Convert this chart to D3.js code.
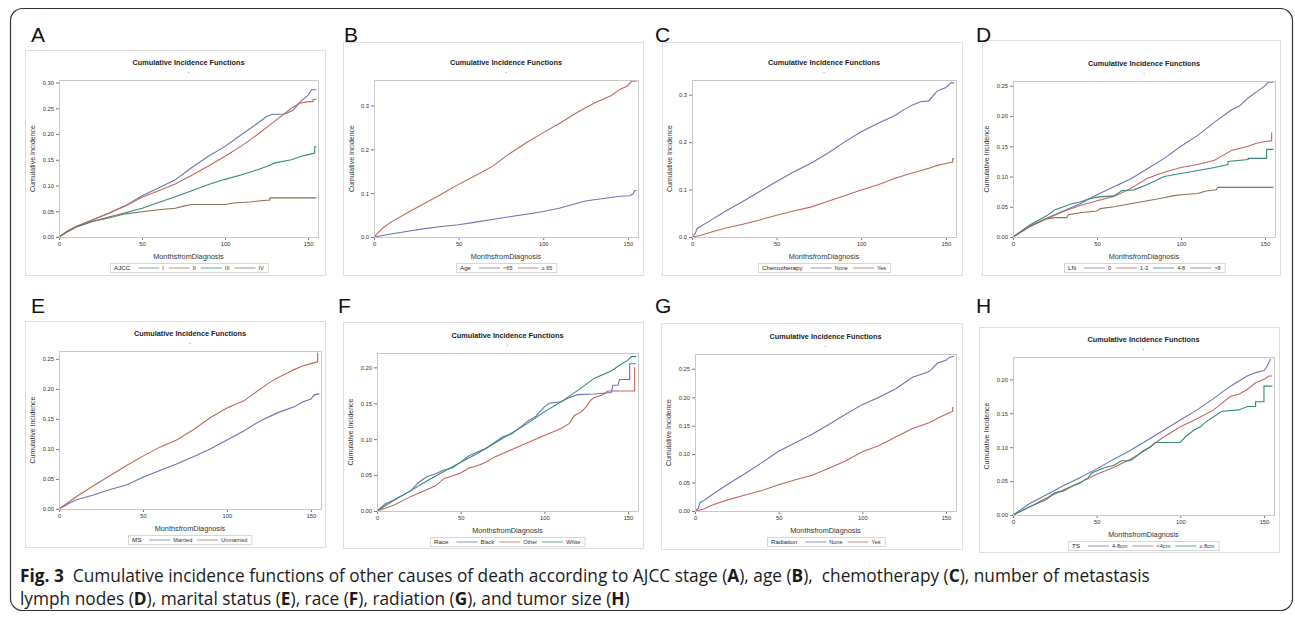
<!DOCTYPE html>
<html lang="en">
<head>
<meta charset="utf-8">
<title>Fig. 3 Cumulative incidence functions</title>
<script src="https://cdn.jsdelivr.net/npm/d3@7/dist/d3.min.js"></script>
<style>
  body { margin: 0; background: #fff; }
  svg  { display: block; }
</style>
</head>
<body>
<svg id="fig" width="1295" height="617"></svg>
<script>
// ---------- data (months, cumulative incidence) ----------
const monthTicks = [0, 50, 100, 150];

// A: AJCC stage
const ajccGroups = ['I', 'II', 'III', 'IV'];
const ajccTicks  = [0, 0.05, 0.10, 0.15, 0.20, 0.25, 0.30];
const ajccI   = [[0,0],[5,0.011],[10,0.02],[20,0.033],[30,0.046],[40,0.061],[50,0.08],[60,0.095],[70,0.111],[80,0.135],[90,0.157],[100,0.176],[110,0.199],[120,0.222],[125,0.234],[128,0.238],[136,0.239],[141,0.246],[145,0.262],[150,0.275],[152,0.286],[155,0.286]];
const ajccII  = [[0,0],[5,0.011],[10,0.02],[20,0.033],[30,0.046],[40,0.06],[50,0.077],[60,0.09],[70,0.103],[80,0.12],[90,0.138],[100,0.157],[110,0.177],[120,0.2],[130,0.225],[140,0.25],[145,0.26],[150,0.263],[153,0.263],[153,0.267],[155,0.267]];
const ajccIII = [[0,0],[5,0.01],[10,0.019],[20,0.03],[30,0.039],[40,0.047],[50,0.056],[60,0.067],[70,0.078],[80,0.09],[90,0.102],[100,0.112],[110,0.121],[120,0.131],[125,0.137],[130,0.144],[140,0.15],[145,0.156],[150,0.16],[154,0.163],[154,0.175],[155,0.175]];
const ajccIV  = [[0,0],[5,0.01],[10,0.019],[20,0.03],[30,0.037],[40,0.045],[50,0.049],[60,0.053],[70,0.056],[75,0.06],[80,0.063],[100,0.063],[105,0.066],[115,0.068],[120,0.07],[127,0.072],[127,0.076],[155,0.076]];

// B: age
const ageGroups = ['<65', '\u2265 65'];
const ageTicks  = [0, 0.1, 0.2, 0.3];
const ageUnder65 = [[0,0],[10,0.007],[20,0.013],[30,0.019],[40,0.024],[50,0.028],[60,0.034],[70,0.04],[80,0.046],[90,0.052],[100,0.058],[110,0.066],[120,0.077],[125,0.082],[130,0.085],[140,0.09],[145,0.093],[151,0.094],[153,0.098],[154,0.106],[155,0.106]];
const age65plus  = [[0,0],[2,0.008],[5,0.02],[10,0.034],[20,0.056],[30,0.077],[40,0.098],[50,0.12],[60,0.14],[70,0.161],[80,0.19],[90,0.215],[100,0.238],[110,0.26],[120,0.284],[130,0.305],[140,0.322],[145,0.336],[150,0.345],[152,0.355],[155,0.355]];

// C: chemotherapy
const chemoGroups = ['None', 'Yes'];
const chemoTicks  = [0, 0.1, 0.2, 0.3];
const chemoNone = [[0,0],[2,0.008],[3,0.018],[5,0.022],[10,0.033],[20,0.055],[30,0.075],[40,0.096],[50,0.117],[60,0.137],[70,0.155],[80,0.176],[90,0.2],[100,0.222],[110,0.24],[120,0.256],[125,0.268],[130,0.278],[135,0.285],[140,0.287],[143,0.3],[145,0.308],[150,0.315],[152,0.322],[153,0.325],[155,0.325]];
const chemoYes  = [[0,0],[5,0.003],[10,0.009],[20,0.019],[30,0.027],[40,0.036],[50,0.046],[60,0.055],[70,0.063],[80,0.075],[90,0.087],[100,0.099],[110,0.11],[120,0.124],[130,0.135],[140,0.145],[145,0.151],[150,0.155],[154,0.158],[154,0.165],[155,0.165]];

// D: lymph nodes
const lnGroups = ['0', '1-3', '4-8', '>8'];
const lnTicks  = [0, 0.05, 0.10, 0.15, 0.20, 0.25];
const ln0     = [[0,0],[10,0.018],[20,0.031],[30,0.043],[40,0.055],[50,0.07],[60,0.083],[70,0.096],[80,0.113],[90,0.13],[100,0.15],[110,0.168],[120,0.19],[130,0.21],[135,0.217],[140,0.23],[145,0.24],[150,0.25],[152,0.256],[155,0.256]];
const ln1to3  = [[0,0],[10,0.018],[20,0.03],[30,0.042],[40,0.052],[50,0.06],[60,0.067],[70,0.08],[80,0.097],[90,0.107],[100,0.115],[110,0.12],[120,0.127],[125,0.135],[130,0.143],[140,0.15],[145,0.155],[150,0.158],[154,0.159],[154,0.173]];
const ln4to8  = [[0,0],[10,0.02],[20,0.035],[25,0.045],[30,0.05],[35,0.055],[40,0.058],[45,0.063],[50,0.066],[60,0.068],[65,0.077],[72,0.078],[80,0.087],[90,0.1],[100,0.105],[110,0.11],[120,0.115],[128,0.12],[128,0.125],[140,0.128],[140,0.13],[151,0.13],[151,0.145],[155,0.145]];
const lnOver8 = [[0,0],[10,0.017],[20,0.03],[25,0.032],[32,0.032],[33,0.037],[40,0.04],[50,0.043],[52,0.047],[60,0.05],[70,0.055],[80,0.06],[90,0.065],[95,0.068],[100,0.07],[110,0.072],[115,0.076],[121,0.078],[122,0.082],[155,0.082]];

// E: marital status
const msGroups = ['Married', 'Unmarried'];
const msTicks  = [0, 0.05, 0.10, 0.15, 0.20, 0.25];
const msMarried   = [[0,0],[5,0.008],[10,0.015],[20,0.023],[30,0.032],[40,0.04],[50,0.053],[60,0.064],[70,0.075],[80,0.087],[90,0.1],[100,0.115],[110,0.13],[120,0.147],[130,0.16],[140,0.17],[145,0.178],[150,0.183],[152,0.19],[155,0.192]];
const msUnmarried = [[0,0],[5,0.01],[10,0.02],[20,0.038],[30,0.055],[40,0.072],[50,0.088],[60,0.103],[70,0.115],[80,0.132],[90,0.152],[100,0.168],[110,0.18],[120,0.2],[125,0.21],[130,0.218],[140,0.232],[145,0.238],[150,0.242],[154,0.245],[154,0.26]];

// F: race
const raceGroups = ['Black', 'Other', 'White'];
const raceTicks  = [0, 0.05, 0.10, 0.15, 0.20];
const raceBlack = [[0,0],[5,0.01],[10,0.015],[20,0.028],[25,0.04],[30,0.048],[35,0.052],[40,0.057],[45,0.06],[50,0.068],[55,0.077],[60,0.082],[65,0.087],[70,0.095],[75,0.103],[80,0.107],[85,0.115],[90,0.125],[95,0.132],[100,0.145],[103,0.15],[110,0.152],[115,0.158],[120,0.162],[130,0.163],[140,0.165],[141,0.175],[144,0.175],[145,0.183],[151,0.183],[151,0.205],[155,0.205]];
const raceOther = [[0,0],[10,0.008],[20,0.02],[30,0.03],[35,0.035],[40,0.045],[50,0.053],[55,0.06],[60,0.063],[65,0.068],[70,0.075],[80,0.085],[90,0.095],[100,0.105],[105,0.11],[110,0.115],[115,0.122],[118,0.133],[122,0.138],[125,0.145],[128,0.155],[130,0.158],[135,0.162],[138,0.167],[154,0.167],[154,0.2]];
const raceWhite = [[0,0],[10,0.015],[20,0.028],[30,0.042],[40,0.055],[50,0.068],[60,0.08],[70,0.094],[80,0.108],[90,0.122],[100,0.138],[110,0.152],[120,0.168],[130,0.185],[140,0.195],[145,0.203],[150,0.21],[152,0.215],[155,0.215]];

// G: radiation
const radGroups = ['None', 'Yes'];
const radTicks  = [0, 0.05, 0.10, 0.15, 0.20, 0.25];
const radNone = [[0,0],[2,0.005],[3,0.015],[5,0.018],[10,0.028],[20,0.048],[30,0.066],[40,0.085],[50,0.105],[60,0.12],[70,0.135],[80,0.152],[90,0.17],[100,0.187],[110,0.2],[120,0.215],[130,0.235],[135,0.24],[140,0.245],[145,0.26],[150,0.265],[152,0.27],[155,0.272]];
const radYes  = [[0,0],[5,0.003],[10,0.01],[20,0.02],[30,0.028],[40,0.036],[50,0.046],[60,0.055],[70,0.063],[80,0.075],[90,0.088],[100,0.104],[110,0.115],[120,0.13],[130,0.145],[140,0.155],[145,0.163],[150,0.17],[154,0.175],[154,0.183]];

// H: tumour size
const tsGroups = ['4-8cm', '<4cm', '\u2265 8cm'];
const tsTicks  = [0, 0.05, 0.10, 0.15, 0.20];
const ts4to8  = [[0,0],[10,0.017],[20,0.03],[30,0.043],[40,0.055],[50,0.068],[60,0.082],[70,0.095],[80,0.11],[90,0.125],[100,0.14],[110,0.155],[120,0.172],[130,0.19],[140,0.205],[145,0.21],[150,0.213],[152,0.22],[154,0.23]];
const tsUnder4 = [[0,0],[10,0.012],[20,0.025],[30,0.037],[40,0.048],[50,0.06],[60,0.07],[70,0.082],[80,0.097],[90,0.115],[100,0.13],[110,0.142],[120,0.155],[125,0.165],[130,0.175],[135,0.178],[140,0.185],[145,0.195],[150,0.2],[153,0.205],[155,0.205]];
const tsOver8 = [[0,0],[10,0.012],[20,0.023],[25,0.033],[30,0.035],[35,0.042],[40,0.047],[45,0.055],[47,0.062],[55,0.07],[60,0.073],[65,0.08],[70,0.08],[73,0.085],[78,0.095],[82,0.1],[85,0.107],[100,0.107],[103,0.115],[108,0.125],[112,0.13],[115,0.137],[120,0.145],[123,0.15],[125,0.153],[135,0.155],[140,0.16],[145,0.16],[145,0.167],[150,0.167],[150,0.19],[155,0.19]];

const seriesColors = ['#6b73b4', '#c0665e', '#35897a', '#8a7155'];

// ---------- panel layout (frame / plot box in page pixels) ----------
const panels = [
  { letter: 'A', at: [31, 42],   group: 'AJCC',         labels: ajccGroups,  series: [ajccI, ajccII, ajccIII, ajccIV], ticks: ajccTicks,  fmt: '.2f', yMax: 0.305, frame: [25, 50, 325, 275],  plot: [59, 80, 318, 237] },
  { letter: 'B', at: [344, 42],  group: 'Age',          labels: ageGroups,   series: [ageUnder65, age65plus],         ticks: ageTicks,   fmt: '.1f', yMax: 0.358, frame: [343, 42, 643, 275], plot: [374, 80, 638, 237] },
  { letter: 'C', at: [655, 42],  group: 'Chemotherapy', labels: chemoGroups, series: [chemoNone, chemoYes],           ticks: chemoTicks, fmt: '.1f', yMax: 0.331, frame: [662, 42, 962, 275], plot: [692, 80, 956, 237] },
  { letter: 'D', at: [976, 42],  group: 'LN',           labels: lnGroups,    series: [ln0, ln1to3, ln4to8, lnOver8],  ticks: lnTicks,    fmt: '.2f', yMax: 0.258, frame: [982, 40, 1280, 275], plot: [1013, 81, 1275, 237] },
  { letter: 'E', at: [31, 313],  group: 'MS',           labels: msGroups,    series: [msMarried, msUnmarried],        ticks: msTicks,    fmt: '.2f', yMax: 0.263, frame: [25, 321, 325, 547], plot: [59, 351, 321, 509] },
  { letter: 'F', at: [338, 313], group: 'Race',         labels: raceGroups,  series: [raceBlack, raceOther, raceWhite], ticks: raceTicks, fmt: '.2f', yMax: 0.22,  frame: [343, 322, 643, 548], plot: [377, 353, 638, 511] },
  { letter: 'G', at: [655, 313], group: 'Radiation',    labels: radGroups,   series: [radNone, radYes],               ticks: radTicks,   fmt: '.2f', yMax: 0.276, frame: [661, 323, 962, 549], plot: [695, 354, 956, 511] },
  { letter: 'H', at: [976, 313], group: 'TS',           labels: tsGroups,    series: [ts4to8, tsUnder4, tsOver8],     ticks: tsTicks,    fmt: '.2f', yMax: 0.233, frame: [979, 327, 1279, 552], plot: [1013, 357, 1274, 515] }
];

const svg = d3.select('#fig');
svg.append('rect').attr('width', 1295).attr('height', 617).attr('fill', '#fff');

// outer rounded border
svg.append('rect')
  .attr('x', 10.5).attr('y', 8.5).attr('width', 1282).attr('height', 602)
  .attr('rx', 12).attr('fill', 'none').attr('stroke', '#333').attr('stroke-width', 1.2);

const sans = 'Liberation Sans, Arial, sans-serif';

panels.forEach(p => {
  const [fx0, fy0, fx1, fy1] = p.frame;
  const [px0, py0, px1, py1] = p.plot;
  const g = svg.append('g').attr('font-family', sans);

  // panel letter
  svg.append('text')
    .attr('x', p.at[0]).attr('y', p.at[1])
    .attr('font-family', sans).attr('font-size', 21).attr('fill', '#111')
    .text(p.letter);

  // graph frame
  g.append('rect')
    .attr('x', fx0 + 0.5).attr('y', fy0 + 0.5).attr('width', fx1 - fx0).attr('height', fy1 - fy0)
    .attr('fill', '#fff').attr('stroke', '#dedede');

  const x = d3.scaleLinear().domain([0, 156]).range([px0, px1]);
  const y = d3.scaleLinear().domain([0, p.yMax]).range([py1, py0]);
  const cx = (px0 + px1) / 2;

  // title and subtitle dot
  g.append('text').attr('x', cx).attr('y', py0 - 15)
    .attr('text-anchor', 'middle').attr('font-size', 7.3).attr('font-weight', 'bold').attr('fill', '#222')
    .text('Cumulative Incidence Functions');
  g.append('text').attr('x', cx).attr('y', py0 - 7)
    .attr('text-anchor', 'middle').attr('font-size', 7).attr('fill', '#333').text('.');

  // axes
  const xAxis = d3.axisBottom(x).tickValues(monthTicks).tickSize(3).tickPadding(2);
  const yAxis = d3.axisLeft(y).tickValues(p.ticks).tickFormat(d3.format(p.fmt)).tickSize(3).tickPadding(2);

  const gx = g.append('g').attr('transform', `translate(0,${py1})`).call(xAxis);
  const gy = g.append('g').attr('transform', `translate(${px0},0)`).call(yAxis);
  [gx, gy].forEach(a => {
    a.select('.domain').remove();
    a.selectAll('line').attr('stroke', '#777');
    a.selectAll('text').attr('font-size', 5.8).attr('fill', '#333').attr('font-family', sans);
  });

  // series
  const line = d3.line().x(d => x(d[0])).y(d => y(d[1]));
  p.series.forEach((s, i) => {
    g.append('path').datum(s)
      .attr('d', line).attr('fill', 'none')
      .attr('stroke', seriesColors[i]).attr('stroke-width', 1.1);
  });

  // plot wall
  g.append('rect')
    .attr('x', px0 + 0.5).attr('y', py0 + 0.5).attr('width', px1 - px0).attr('height', py1 - py0)
    .attr('fill', 'none').attr('stroke', '#c8c8c8');

  // axis labels
  g.append('text').attr('x', cx).attr('y', py1 + 22)
    .attr('text-anchor', 'middle').attr('font-size', 7.3).attr('fill', '#333')
    .text('MonthsfromDiagnosis');
  const yLabX = px0 - (p.fmt === '.1f' ? 20 : 24);
  g.append('text')
    .attr('transform', `translate(${yLabX},${(py0 + py1) / 2}) rotate(-90)`)
    .attr('text-anchor', 'middle').attr('font-size', 7).attr('fill', '#333')
    .text('Cumulative Incidence');

  // legend
  const lg = g.append('g');
  const ly = py1 + 31;
  let lx = 4;
  const t0 = lg.append('text').attr('x', lx).attr('y', ly + 2)
    .attr('font-size', 6.2).attr('fill', '#222').text(p.group);
  lx += t0.node().getComputedTextLength() + 8;
  p.labels.forEach((lab, i) => {
    lg.append('line').attr('x1', lx).attr('x2', lx + 21).attr('y1', ly).attr('y2', ly)
      .attr('stroke', seriesColors[i]).attr('stroke-width', 1).attr('opacity', 0.75);
    lx += 24;
    const t = lg.append('text').attr('x', lx).attr('y', ly + 2)
      .attr('font-size', 5.6).attr('fill', '#333').text(lab);
    lx += t.node().getComputedTextLength() + 5;
  });
  const lw = lx - 1;
  lg.insert('rect', ':first-child')
    .attr('x', 0.5).attr('y', ly - 4.5).attr('width', lw).attr('height', 9)
    .attr('fill', '#fff').attr('stroke', '#d6d6d6');
  lg.attr('transform', `translate(${Math.round(cx - lw / 2)},0)`);
});

// caption
const cap = svg.append('g')
  .attr('font-family', 'Open Sans, Noto Sans, sans-serif').attr('font-size', 17.3).attr('fill', '#1a1a1a');
const line1 = [
  ['Fig. 3', true], ['  Cumulative incidence functions of other causes of death according to AJCC stage (', false], ['A', true],
  ['), age (', false], ['B', true], ['),  chemotherapy (', false], ['C', true], ['), number of metastasis', false]
];
const line2 = [
  ['lymph nodes (', false], ['D', true], ['), marital status (', false], ['E', true], ['), race (', false], ['F', true],
  ['), radiation (', false], ['G', true], ['), and tumor size (', false], ['H', true], [')', false]
];
[[line1, 582], [line2, 605]].forEach(([parts, yy]) => {
  const t = cap.append('text').attr('x', 20).attr('y', yy).attr('xml:space', 'preserve');
  parts.forEach(([s, b]) => t.append('tspan').attr('font-weight', b ? 'bold' : 'normal').text(s));
});
</script>
</body>
</html>
